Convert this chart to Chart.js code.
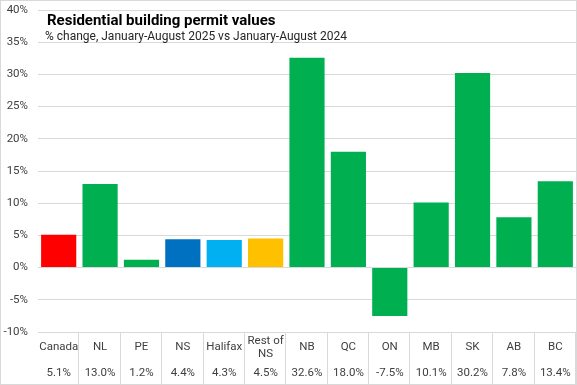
<!DOCTYPE html>
<html><head><meta charset="utf-8">
<script src="https://cdn.jsdelivr.net/npm/chart.js@4.4.1/dist/chart.umd.min.js"></script>
<style>html,body{margin:0;padding:0;background:#fff}#wrap{width:577px;height:385px}</style>
</head><body><div id="wrap"><canvas id="c" width="577" height="385"></canvas></div>
<script>
const categories = ['Canada', 'NL', 'PE', 'NS', 'Halifax', ['Rest of', 'NS'], 'NB', 'QC', 'ON', 'MB', 'SK', 'AB', 'BC'];
const values = [5.1, 13.0, 1.2, 4.4, 4.3, 4.5, 32.6, 18.0, -7.5, 10.1, 30.2, 7.8, 13.4];
const valueLabels = ['5.1%', '13.0%', '1.2%', '4.4%', '4.3%', '4.5%', '32.6%', '18.0%', '-7.5%', '10.1%', '30.2%', '7.8%', '13.4%'];
const barColors = ['#FF0000', '#00B050', '#00B050', '#0070C0', '#00B0F0', '#FFC000', '#00B050', '#00B050', '#00B050', '#00B050', '#00B050', '#00B050', '#00B050'];
const titleText = 'Residential building permit values';
const subtitleText = '% change, January-August 2025 vs January-August 2024';

const FONT = "'Roboto', sans-serif";
const GRID = '#d9d9d9';
const TXT = '#404040';

const tablePlugin = {
  id: 'tablePlugin',
  afterDraw(chart) {
    const ctx = chart.ctx;
    const x = chart.scales.x;
    const area = chart.chartArea;
    ctx.save();
    ctx.strokeStyle = GRID;
    ctx.lineWidth = 1;
    const n = categories.length;
    const half = (x.getPixelForValue(1) - x.getPixelForValue(0)) / 2;
    for (let i = 0; i < n; i++) {
      const px = Math.round(x.getPixelForValue(i) + half) - 0.5;
      ctx.beginPath();
      ctx.moveTo(px, area.bottom);
      ctx.lineTo(px, chart.height);
      ctx.stroke();
    }
    ctx.strokeRect(0.5, 0.5, chart.width - 1, chart.height - 1);
    // titles
    ctx.fillStyle = '#000';
    ctx.textBaseline = 'middle';
    ctx.textAlign = 'left';
    ctx.font = "bold 15px " + FONT;
    ctx.fillText(titleText, 47, 21);
    ctx.fillStyle = '#262626';
    ctx.font = "12px " + FONT;
    ctx.fillText(subtitleText, 45, 37);
    ctx.restore();
  }
};

new Chart(document.getElementById('c'), {
  type: 'bar',
  data: {
    labels: categories,
    datasets: [{
      data: values,
      backgroundColor: barColors,
      barPercentage: 0.85,
      categoryPercentage: 1.0
    }]
  },
  options: {
    responsive: false,
    animation: false,
    layout: { padding: { top: 10, right: 1, left: 0, bottom: 0 } },
    plugins: { legend: { display: false }, title: { display: false }, tooltip: { enabled: false } },
    scales: {
      y: {
        min: -10, max: 40,
        ticks: { stepSize: 5, padding: 10, color: TXT, font: { family: FONT, size: 11.5 }, callback: v => v + '%' },
        grid: { color: GRID, drawTicks: false },
        border: { display: false },
        afterFit(s) { s.width = 38; s.paddingTop = 0; s.paddingBottom = 0; }
      },
      x: {
        position: 'bottom',
        grid: { display: false },
        border: { display: false },
        ticks: { color: TXT, font: { family: FONT, size: 11.5, lineHeight: 1.13 }, padding: 1, crossAlign: 'center', maxRotation: 0, autoSkip: false },
        afterFit(s) { s.height = 27; }
      },
      x2: {
        type: 'category',
        labels: valueLabels,
        position: 'bottom',
        offset: true,
        grid: { display: false },
        border: { display: false },
        ticks: { color: TXT, font: { family: FONT, size: 11.5, lineHeight: 1.13 }, padding: 0, maxRotation: 0, autoSkip: false },
        afterFit(s) { s.height = 26; }
      }
    }
  },
  plugins: [tablePlugin]
});
</script>
</body></html>
